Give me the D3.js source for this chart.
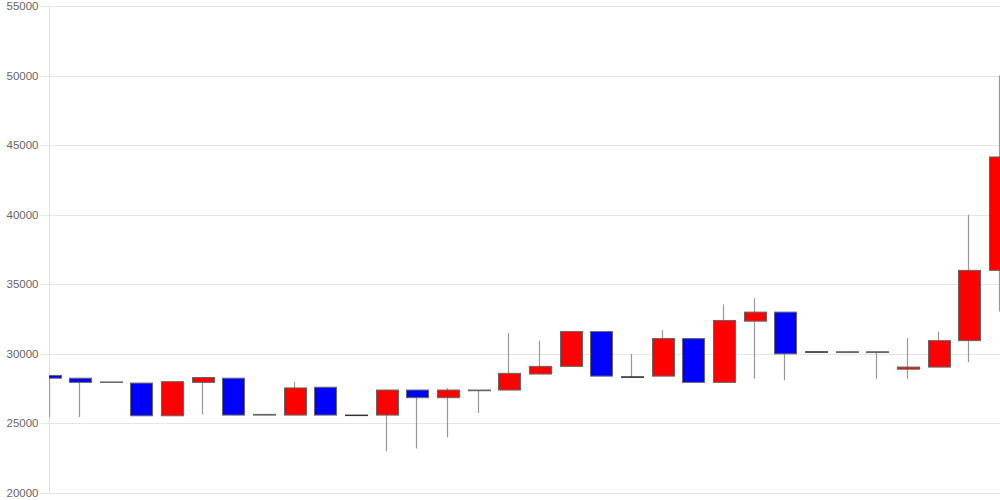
<!DOCTYPE html>
<html>
<head>
<meta charset="utf-8">
<script src="https://cdn.jsdelivr.net/npm/d3@7"></script>
<style>
  html, body { margin: 0; padding: 0; background: #fff; }
  svg { display: block; }
</style>
</head>
<body>
<svg id="chart" width="1000" height="500"></svg>
<script>
const categories = ["1","2","3","4","5","6","7","8","9","10","11","12","13","14","15","16",
                    "17","18","19","20","21","22","23","24","25","26","27","28","29","30","31","32"];
const openValues  = [28450,28250,27980,27900,25550,27950,28250,25650,25600,27600,25600,25600,27400,26850,27400,27400,
                     28550,29100,31600,28350,28400,31100,27950,32350,33000,30150,30150,30150,28900,29050,30950,36000];
const highValues  = [28450,28250,27980,27900,28000,28300,28250,25650,28000,27600,25600,27400,27400,27550,27400,31500,
                     30950,31650,31600,30000,31700,31100,33550,34000,33000,30150,30150,30150,31150,31600,40000,50000];
const lowValues   = [25450,25450,27950,25550,25550,25650,25600,25600,25600,25600,25600,23000,23200,24000,25750,27400,
                     28550,29100,28400,28350,28400,27950,27950,28200,28100,30150,30100,28200,28200,29050,29400,33050];
const closeValues = [28250,27950,27950,25550,28000,28300,25600,25600,27550,25600,25600,27400,26850,27400,27350,28600,
                     29100,31600,28400,28350,31100,27950,32400,33000,30000,30150,30100,30100,29050,30950,36000,44150];
const yTickValues = [20000,25000,30000,35000,40000,45000,50000,55000];

(function () {
const svg = d3.select("#chart");
const mLeft = 49, mRight = 1000, mTop = 6, mBottom = 493;

const x = d3.scalePoint().domain(categories).range([49.5, 1000]);
const y = d3.scaleLinear().domain([20000, 55000]).range([mBottom, mTop]);

const yAxis = d3.axisLeft(y).tickValues(yTickValues).tickFormat(d3.format("d")).tickSizeOuter(0).tickPadding(2);
const gAxis = svg.append("g").attr("transform", `translate(${mLeft + 0.5},0)`);
gAxis.call(yAxis);
gAxis.select(".domain").remove();
gAxis.selectAll(".tick").attr("transform", d => `translate(0,${Math.round(y(d)) + 0.5})`);
gAxis.selectAll(".tick line")
  .attr("x1", -9).attr("x2", mRight - mLeft)
  .attr("stroke", "#e6e6e6").attr("stroke-width", 1);
gAxis.selectAll(".tick text")
  .attr("x", -11)
  .attr("fill", "#666")
  .style("font-family", "'Liberation Sans', Arial, sans-serif")
  .style("font-size", "11.5px");

svg.append("line")
  .attr("x1", mLeft + 0.5).attr("x2", mLeft + 0.5)
  .attr("y1", mTop).attr("y2", mBottom + 1)
  .attr("stroke", "#e0e0e0");

svg.append("clipPath").attr("id", "plotclip")
  .append("rect").attr("x", mLeft).attr("y", 0).attr("width", mRight - mLeft).attr("height", 500);

const data = categories.map((c, i) => ({
  c, o: openValues[i], h: highValues[i], l: lowValues[i], cl: closeValues[i]
}));

const g = svg.append("g").attr("clip-path", "url(#plotclip)");
const bw = 22;

g.selectAll("line.wick").data(data).join("line")
  .attr("class", "wick")
  .attr("x1", d => Math.round(x(d.c)) - 0.5)
  .attr("x2", d => Math.round(x(d.c)) - 0.5)
  .attr("y1", d => y(d.h))
  .attr("y2", d => y(d.l))
  .attr("stroke", "#999")
  .attr("stroke-width", 1.2);

g.selectAll("rect.body").data(data).join("rect")
  .attr("class", "body")
  .attr("x", d => Math.round(x(d.c) - bw / 2) + 0.5)
  .attr("width", bw)
  .attr("y", d => y(Math.max(d.o, d.cl)))
  .attr("height", d => Math.max(0.5, Math.abs(y(d.o) - y(d.cl))))
  .attr("fill", d => d.cl > d.o ? "#ff0000" : (d.cl < d.o ? "#0000ff" : "#000"))
  .attr("stroke", d => d.cl === d.o ? "#333" : "#666")
  .attr("stroke-width", 1);
})();
</script>
</body>
</html>
